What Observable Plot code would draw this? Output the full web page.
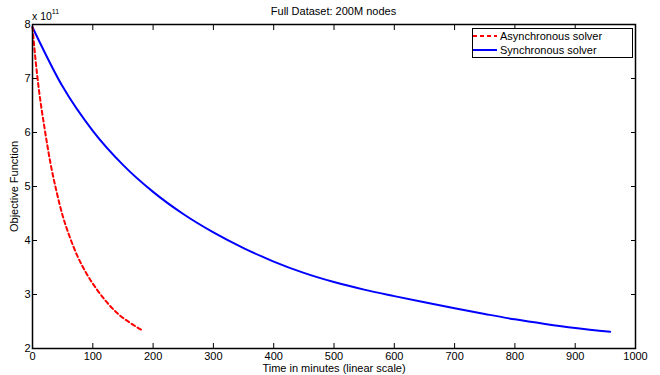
<!DOCTYPE html>
<html><head><meta charset="utf-8">
<script src="https://cdn.jsdelivr.net/npm/d3@7"></script>
<script src="https://cdn.jsdelivr.net/npm/@observablehq/plot@0.6"></script>
<style>
body{margin:0;background:#fff;font-family:"Liberation Sans",Arial,Helvetica,sans-serif;color:#000;}
#wrap{position:relative;width:660px;height:375px;overflow:hidden;}
#wrap svg{position:absolute;left:0;top:0;}
.ov{position:absolute;white-space:nowrap;}
#title{left:0;width:667px;top:4px;text-align:center;font-size:11px;line-height:14px;}
#expo{left:32px;top:9px;font-size:10.5px;line-height:14px;}
#expo sup{font-size:7px;vertical-align:6px;line-height:0;}
#legend{left:472px;top:28px;width:159px;height:28px;border:1px solid #000;background:#fff;}
.row{position:absolute;left:0;height:14px;line-height:14px;font-size:11px;}
.row svg{position:absolute;left:2px;top:0;}
.row span{position:absolute;left:27px;top:0;}
</style></head><body>
<div id="wrap"></div>
<script>
// ---- data (objective values in units of 10^11) ----
const chartTitle = "Full Dataset: 200M nodes";
const xLabel = "Time in minutes (linear scale)";
const yLabel = "Objective Function";
const yExponent = 11;
const xTicks = [0, 100, 200, 300, 400, 500, 600, 700, 800, 900, 1000];
const yTicks = [2, 3, 4, 5, 6, 7, 8];
const seriesNames = ["Asynchronous solver", "Synchronous solver"];
const seriesColors = ["#ff0000", "#0000ff"];

const asyncTime = [0, 5, 10, 20, 30, 40, 50, 60, 75, 90, 105, 120, 140, 160, 183];
const asyncObj  = [7.95, 7.35, 6.85, 6.08, 5.42, 4.9, 4.46, 4.12, 3.7, 3.38, 3.12, 2.9, 2.66, 2.49, 2.33];

const syncTime = [0, 50, 100, 150, 200, 250, 300, 350, 400, 450, 500, 550, 600, 650, 700, 750, 800, 850, 900, 958];
const syncObj  = [7.95, 6.85, 6.03, 5.4, 4.9, 4.49, 4.15, 3.86, 3.61, 3.4, 3.23, 3.09, 2.97, 2.855, 2.745, 2.64, 2.54, 2.455, 2.38, 2.31];

const asyncData = asyncTime.map((t, i) => ({t, v: asyncObj[i], s: seriesNames[0]}));
const syncData = syncTime.map((t, i) => ({t, v: syncObj[i], s: seriesNames[1]}));

const blank = () => "";
const chart = Plot.plot({
  width: 660, height: 375,
  marginLeft: 32, marginRight: 25, marginTop: 24, marginBottom: 27,
  style: {fontFamily: "Liberation Sans, Arial, Helvetica, sans-serif", fontSize: "11px", color: "#000", background: "#fff"},
  x: {domain: [0, 1000]},
  y: {domain: [2, 8]},
  marks: [
    Plot.axisX({ticks: xTicks, tickSize: 0, tickPadding: 4, tickFormat: d3.format("d"), label: xLabel, labelAnchor: "center", labelArrow: "none", labelOffset: 23}),
    Plot.axisX({ticks: xTicks, tickSize: -5, tickFormat: blank, label: null, strokeWidth: 1}),
    Plot.axisX({anchor: "top", ticks: xTicks, tickSize: -5, tickFormat: blank, label: null, strokeWidth: 1}),
    Plot.axisY({ticks: yTicks, tickSize: 0, tickPadding: 2, tickFormat: d3.format("d"), label: yLabel, labelAnchor: "center", labelArrow: "none", labelOffset: 22}),
    Plot.axisY({ticks: yTicks, tickSize: -5, tickFormat: blank, label: null, strokeWidth: 1}),
    Plot.axisY({anchor: "right", ticks: yTicks, tickSize: -5, tickFormat: blank, label: null, strokeWidth: 1}),
    Plot.line(syncData, {x: "t", y: "v", stroke: seriesColors[1], strokeWidth: 2, curve: "monotone-x"}),
    Plot.line(asyncData, {x: "t", y: "v", stroke: seriesColors[0], strokeWidth: 2, strokeDasharray: "4,3", curve: "monotone-x"}),
    Plot.frame({stroke: "#000", strokeWidth: 1.5})
  ]
});

const wrap = document.getElementById("wrap");
wrap.appendChild(chart);

const t = document.createElement("div");
t.className = "ov"; t.id = "title"; t.textContent = chartTitle;
wrap.appendChild(t);

const e = document.createElement("div");
e.className = "ov"; e.id = "expo";
e.innerHTML = "x 10<sup>" + yExponent + "</sup>";
wrap.appendChild(e);

const lg = document.createElement("div");
lg.className = "ov"; lg.id = "legend";
seriesNames.forEach((name, i) => {
  const r = document.createElement("div");
  r.className = "row";
  r.style.top = (i * 14) + "px";
  r.style.width = "159px";
  const dash = i === 0 ? ' stroke-dasharray="4,3"' : '';
  r.innerHTML = '<svg width="24" height="14"><line x1="0" x2="24" y1="7" y2="7" stroke="' + seriesColors[i] + '" stroke-width="2"' + dash + '/></svg><span></span>';
  r.querySelector("span").textContent = name;
  lg.appendChild(r);
});
wrap.appendChild(lg);
</script>
</body></html>
